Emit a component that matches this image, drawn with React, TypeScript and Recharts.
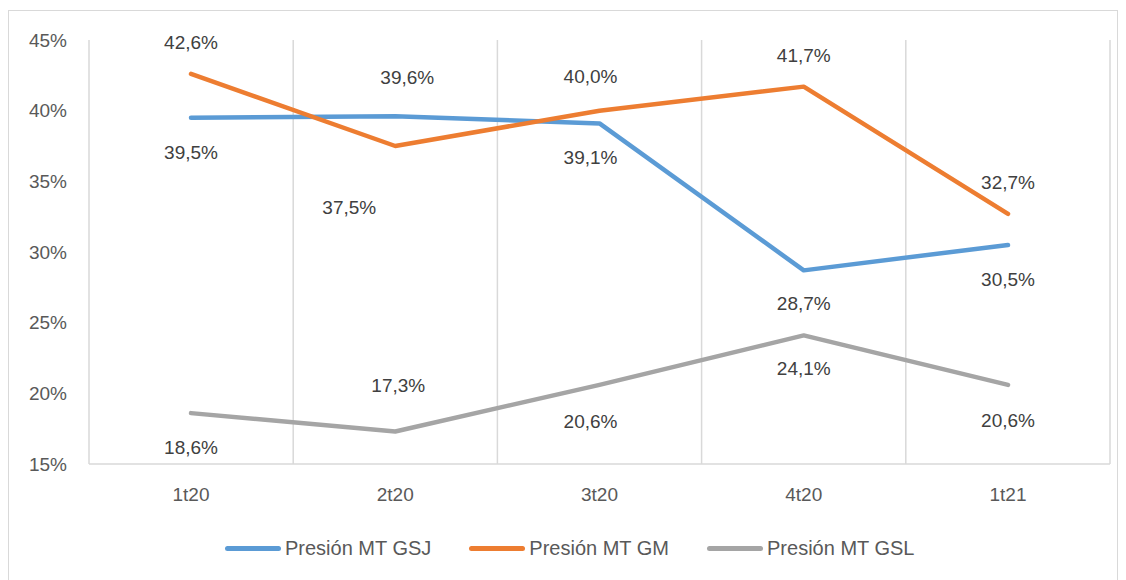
import { LineChart, Line, XAxis, YAxis, CartesianGrid, LabelList } from 'recharts';

const CATEGORIES = ['1t20', '2t20', '3t20', '4t20', '1t21'];
const GSJ = [39.5, 39.6, 39.1, 28.7, 30.5];
const GM = [42.6, 37.5, 40.0, 41.7, 32.7];
const GSL = [18.6, 17.3, 20.6, 24.1, 20.6];
const Y_TICKS = [15, 20, 25, 30, 35, 40, 45];

const SERIES = [
  { key: 'gsj', name: 'Presión MT GSJ', color: '#5b9bd5', dx: [0, 12, -9, 0, 0], dy: [35, -39, 34, 33, 35] },
  { key: 'gm', name: 'Presión MT GM', color: '#ed7d31', dx: [0, -46, -9, 0, 0], dy: [-31, 61, -34, -31, -31] },
  { key: 'gsl', name: 'Presión MT GSL', color: '#a5a5a5', dx: [0, 3, -9, 0, 0], dy: [34, -46, 37, 33, 36] },
];

const data = CATEGORIES.map((c, i) => ({ cat: c, gsj: GSJ[i], gm: GM[i], gsl: GSL[i] }));

const FONT = '"Liberation Sans", Arial, sans-serif';
const fmt = (v: number) => `${v.toFixed(1).replace('.', ',')}%`;

function makeLabel(dx: number[], dy: number[]) {
  return (props: any) => {
    const { x, y, value, index } = props;
    return (
      <text
        x={x + dx[index]}
        y={y + dy[index]}
        textAnchor="middle"
        dominantBaseline="central"
        fontSize={19}
        fontFamily={FONT}
        fill="#404040"
      >
        {fmt(value)}
      </text>
    );
  };
}

export default function App() {
  return (
    <div
      style={{
        position: 'relative',
        width: 1110,
        height: 572,
        marginTop: 2,
        border: '1px solid #d9d9d9',
        boxSizing: 'border-box',
        background: '#fff',
        fontFamily: FONT,
      }}
    >
      <LineChart width={1108} height={570} data={data} margin={{ top: 29, right: 7, bottom: 77, left: 0 }}>
        <CartesianGrid
          horizontal={false}
          stroke="#d9d9d9"
          strokeWidth={1.5}
          verticalCoordinatesGenerator={({ offset }: any) =>
            CATEGORIES.concat(['']).map((_, i) => offset.left + (i * offset.width) / CATEGORIES.length)
          }
        />
        <XAxis
          dataKey="cat"
          stroke="#d9d9d9"
          strokeWidth={1.5}
          padding={{ left: 102, right: 102 }}
          tickLine={false}
          tickSize={20}
          tickMargin={4}
          height={40}
          tick={{ fontSize: 19, fill: '#595959', fontFamily: FONT }}
        />
        <YAxis
          domain={[15, 45]}
          ticks={Y_TICKS}
          width={80}
          axisLine={false}
          tickLine={false}
          tickSize={20}
          tickMargin={2}
          tickFormatter={(v) => `${v}%`}
          tick={{ fontSize: 19, fill: '#595959', fontFamily: FONT }}
        />
        {SERIES.map((s) => (
          <Line
            key={s.key}
            dataKey={s.key}
            name={s.name}
            stroke={s.color}
            strokeWidth={4.5}
            strokeLinecap="round"
            strokeLinejoin="round"
            dot={false}
            activeDot={false}
            isAnimationActive={false}
          >
            <LabelList dataKey={s.key} content={makeLabel(s.dx, s.dy)} />
          </Line>
        ))}
      </LineChart>
      <div
        style={{
          position: 'absolute',
          left: 216,
          top: 525,
          height: 24,
          display: 'flex',
          alignItems: 'center',
          fontSize: 20,
          color: '#595959',
        }}
      >
        {SERIES.map((s) => (
          <div key={s.key} style={{ display: 'flex', alignItems: 'center', marginRight: 38 }}>
            <div style={{ width: 56, height: 5, borderRadius: 3, background: s.color, marginRight: 4 }} />
            <span>{s.name}</span>
          </div>
        ))}
      </div>
    </div>
  );
}
